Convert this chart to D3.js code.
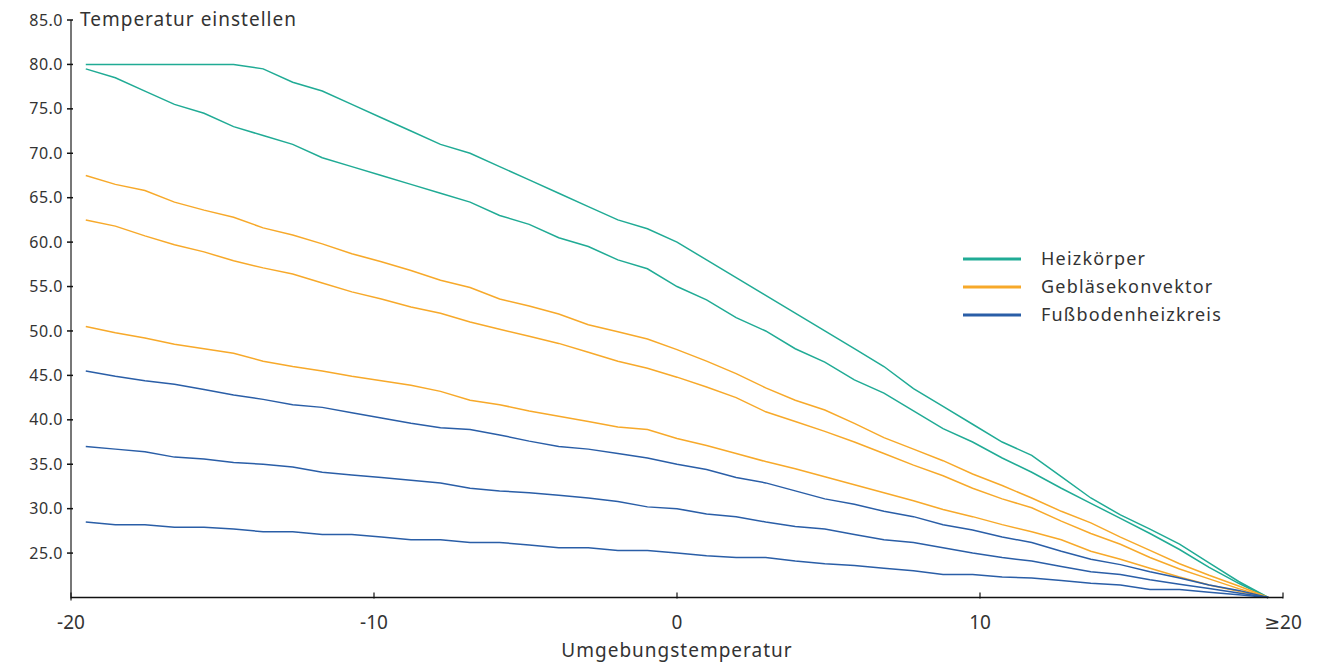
<!DOCTYPE html>
<html>
<head>
	<meta charset="utf-8">
	<title>Heizkurven</title>
	<style type="text/css">
		body {
			margin: 0;
			background: #fff;
			font-family: "Noto Sans", "DejaVu Sans", sans-serif;
		}

		.tick-label {
			fill: #333;
			font-size: 16px;
			letter-spacing: 0.5px;
		}

		.x-label {
			fill: #333;
			font-size: 19px;
		}

		.axis-title {
			fill: #333;
			font-size: 19px;
			letter-spacing: 1px;
		}

		.legend-text {
			fill: #333;
			font-size: 18px;
			letter-spacing: 1.2px;
		}

		.curve {
			fill: none;
			stroke-width: 1.5;
		}
	</style>
</head>
<body>
	<div id="chart"></div>
	<script src="https://cdn.jsdelivr.net/npm/d3@7/dist/d3.min.js"></script>
	<script type="text/javascript">
		// Umgebungstemperatur categories (last one is ">= 20")
		var categories = ["-20", "-19", "-18", "-17", "-16", "-15", "-14", "-13", "-12", "-11",
			"-10", "-9", "-8", "-7", "-6", "-5", "-4", "-3", "-2", "-1",
			"0", "1", "2", "3", "4", "5", "6", "7", "8", "9",
			"10", "11", "12", "13", "14", "15", "16", "17", "18", "19", "≥20"];

		// Heizkörper
		var heizkoerper1 = [80, 80, 80, 80, 80, 80, 79.5, 78, 77, 75.5,
			74, 72.5, 71, 70, 68.5, 67, 65.5, 64, 62.5, 61.5,
			60, 58, 56, 54, 52, 50, 48, 46, 43.5, 41.5,
			39.5, 37.5, 36, 33.6, 31.2, 29.3, 27.7, 26, 23.9, 21.8, 20];
		var heizkoerper2 = [79.5, 78.5, 77, 75.5, 74.5, 73, 72, 71, 69.5, 68.5,
			67.5, 66.5, 65.5, 64.5, 63, 62, 60.5, 59.5, 58, 57,
			55, 53.5, 51.5, 50, 48, 46.5, 44.5, 43, 41, 39,
			37.5, 35.7, 34.1, 32.3, 30.6, 28.9, 27.2, 25.4, 23.4, 21.6, 20];

		// Gebläsekonvektor
		var geblaese1 = [67.5, 66.5, 65.8, 64.5, 63.6, 62.8, 61.6, 60.8, 59.8, 58.7,
			57.8, 56.8, 55.7, 54.9, 53.6, 52.8, 51.9, 50.7, 49.9, 49.1,
			47.9, 46.6, 45.2, 43.6, 42.2, 41.1, 39.6, 38, 36.7, 35.4,
			33.9, 32.6, 31.2, 29.7, 28.4, 26.8, 25.3, 23.8, 22.5, 21.3, 20];
		var geblaese2 = [62.5, 61.8, 60.7, 59.7, 58.9, 57.9, 57.1, 56.4, 55.4, 54.4,
			53.6, 52.7, 52, 51, 50.2, 49.4, 48.6, 47.6, 46.6, 45.8,
			44.8, 43.7, 42.5, 40.9, 39.8, 38.7, 37.5, 36.2, 34.9, 33.7,
			32.3, 31.1, 30.1, 28.6, 27.2, 26, 24.5, 23.2, 22.1, 21, 20];
		var geblaese3 = [50.5, 49.8, 49.2, 48.5, 48, 47.5, 46.6, 46, 45.5, 44.9,
			44.4, 43.9, 43.2, 42.2, 41.7, 41, 40.4, 39.8, 39.2, 38.9,
			37.9, 37.1, 36.2, 35.3, 34.5, 33.6, 32.7, 31.8, 30.9, 29.9,
			29.1, 28.2, 27.4, 26.5, 25.2, 24.3, 23.3, 22.3, 21.4, 20.7, 20];

		// Fußbodenheizkreis
		var fussboden1 = [45.5, 44.9, 44.4, 44, 43.4, 42.8, 42.3, 41.7, 41.4, 40.8,
			40.2, 39.6, 39.1, 38.9, 38.3, 37.6, 37, 36.7, 36.2, 35.7,
			35, 34.4, 33.5, 32.9, 32, 31.1, 30.5, 29.7, 29.1, 28.2,
			27.6, 26.8, 26.2, 25.2, 24.3, 23.7, 22.9, 22.2, 21.4, 20.8, 20];
		var fussboden2 = [37, 36.7, 36.4, 35.8, 35.6, 35.2, 35, 34.7, 34.1, 33.8,
			33.5, 33.2, 32.9, 32.3, 32, 31.8, 31.5, 31.2, 30.8, 30.2,
			30, 29.4, 29.1, 28.5, 28, 27.7, 27.1, 26.5, 26.2, 25.6,
			25, 24.5, 24.1, 23.5, 22.9, 22.6, 22, 21.5, 21, 20.5, 20];
		var fussboden3 = [28.5, 28.2, 28.2, 27.9, 27.9, 27.7, 27.4, 27.4, 27.1, 27.1,
			26.8, 26.5, 26.5, 26.2, 26.2, 25.9, 25.6, 25.6, 25.3, 25.3,
			25, 24.7, 24.5, 24.5, 24.1, 23.8, 23.6, 23.3, 23, 22.6,
			22.6, 22.3, 22.2, 21.9, 21.6, 21.4, 20.9, 20.9, 20.6, 20.3, 20];

		var xTickValues = [-20, -10, 0, 10, 20];
		var xTickLabels = ["-20", "-10", "0", "10", "≥20"];
		var yTickValues = [25, 30, 35, 40, 45, 50, 55, 60, 65, 70, 75, 80, 85];

		var legendData = [
			{ label: "Heizkörper", color: "#20ab95" },
			{ label: "Gebläsekonvektor", color: "#f7a92a" },
			{ label: "Fußbodenheizkreis", color: "#2a5ea7" }
		];

		var series = [
			{ values: heizkoerper1, color: legendData[0].color },
			{ values: heizkoerper2, color: legendData[0].color },
			{ values: geblaese1, color: legendData[1].color },
			{ values: geblaese2, color: legendData[1].color },
			{ values: geblaese3, color: legendData[1].color },
			{ values: fussboden1, color: legendData[2].color },
			{ values: fussboden2, color: legendData[2].color },
			{ values: fussboden3, color: legendData[2].color }
		];

		var width = 1333,
			height = 666,
			plotLeft = 71,
			plotRight = 1283,
			plotTop = 20,
			plotBottom = 597.5;

		var svg = d3.select("#chart")
			.append("svg")
			.attr("width", width)
			.attr("height", height);

		// axis ticks sit on a linear scale, data points on a padded point scale
		var xAxisScale = d3.scaleLinear().domain([-20, 20]).range([plotLeft, plotRight]);
		var x = d3.scalePoint().domain(categories).range([plotLeft, plotRight]).padding(0.5);
		var y = d3.scaleLinear().domain([20, 85]).range([plotBottom, plotTop]);

		var line = d3.line()
			.x(function(d, i) { return x(categories[i]); })
			.y(function(d) { return y(d); });

		// curves
		svg.append("g")
			.selectAll("path")
			.data(series)
			.enter()
			.append("path")
			.attr("class", "curve")
			.attr("stroke", function(d) { return d.color; })
			.attr("d", function(d) { return line(d.values); });

		// y axis
		var yAxis = svg.append("g");
		yAxis.append("line")
			.attr("x1", plotLeft).attr("x2", plotLeft)
			.attr("y1", plotTop).attr("y2", plotBottom + 3)
			.attr("stroke", "#777")
			.attr("stroke-width", 2);
		yAxis.selectAll(".ytick")
			.data(yTickValues)
			.enter()
			.append("line")
			.attr("x1", plotLeft - 4).attr("x2", plotLeft + 2)
			.attr("y1", function(d) { return y(d); })
			.attr("y2", function(d) { return y(d); })
			.attr("stroke", "#111")
			.attr("stroke-width", 1.5);
		yAxis.selectAll("text")
			.data(yTickValues)
			.enter()
			.append("text")
			.attr("class", "tick-label")
			.attr("x", plotLeft - 8)
			.attr("y", function(d) { return y(d); })
			.attr("dy", "0.35em")
			.attr("text-anchor", "end")
			.text(function(d) { return d3.format(".1f")(d); });

		// x axis
		var xAxis = svg.append("g");
		xAxis.append("line")
			.attr("x1", plotLeft).attr("x2", plotRight)
			.attr("y1", plotBottom).attr("y2", plotBottom)
			.attr("stroke", "#111")
			.attr("stroke-width", 1.5);
		xAxis.selectAll(".xtick")
			.data(xTickValues)
			.enter()
			.append("line")
			.attr("x1", function(d) { return xAxisScale(d); })
			.attr("x2", function(d) { return xAxisScale(d); })
			.attr("y1", plotBottom - 5).attr("y2", plotBottom + 1)
			.attr("stroke", "#111")
			.attr("stroke-width", 1.2);
		xAxis.selectAll("text")
			.data(xTickValues)
			.enter()
			.append("text")
			.attr("class", "x-label")
			.attr("x", function(d) { return xAxisScale(d); })
			.attr("y", 629)
			.attr("text-anchor", "middle")
			.text(function(d, i) { return xTickLabels[i]; });

		// titles
		svg.append("text")
			.attr("class", "axis-title")
			.attr("x", 80)
			.attr("y", 26)
			.text("Temperatur einstellen");
		svg.append("text")
			.attr("class", "axis-title")
			.attr("x", xAxisScale(0))
			.attr("y", 657)
			.attr("text-anchor", "middle")
			.text("Umgebungstemperatur");

		// legend
		var legend = svg.append("g")
			.selectAll("g")
			.data(legendData)
			.enter()
			.append("g")
			.attr("transform", function(d, i) { return "translate(963," + (259 + i * 28) + ")"; });
		legend.append("line")
			.attr("x1", 0).attr("x2", 58)
			.attr("stroke", function(d) { return d.color; })
			.attr("stroke-width", 3);
		legend.append("text")
			.attr("class", "legend-text")
			.attr("x", 78)
			.attr("dy", "0.35em")
			.text(function(d) { return d.label; });
	</script>
</body>
</html>
